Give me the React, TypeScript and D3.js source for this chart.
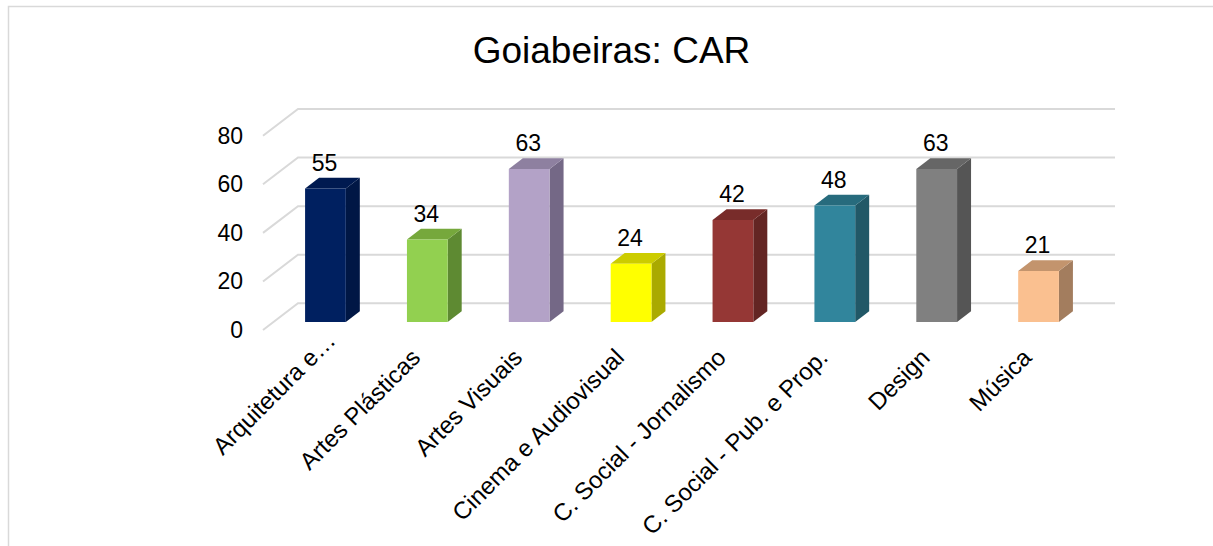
import React from "react";
import * as d3 from "d3";

const title = "Goiabeiras: CAR";
const categories = [
  "Arquitetura e…",
  "Artes Plásticas",
  "Artes Visuais",
  "Cinema e Audiovisual",
  "C. Social - Jornalismo",
  "C. Social - Pub. e Prop.",
  "Design",
  "Música",
];
const values = [55, 34, 63, 24, 42, 48, 63, 21];
const yTicks = [0, 20, 40, 60, 80];
const frontColors = ["#002060", "#92D050", "#B3A2C7", "#FFFF00", "#953735", "#31859C", "#808080", "#FAC090"];
const topColors = ["#001A50", "#76A83C", "#8E80A0", "#CCCC00", "#782C2A", "#276B7D", "#666666", "#C3946D"];
const sideColors = ["#001745", "#5E8A32", "#746886", "#AAAA00", "#632523", "#215867", "#555555", "#A37D5E"];

const W = 1213;
const H = 546;
const FONT = "'Liberation Sans', Arial, Helvetica, sans-serif";

// 3D projection: depth vector for the floor
const DX = 35;
const DY = -26.7;
const d1 = 0.3;
const d2 = 0.7;

export default function App() {
  const x = d3
    .scaleBand<string>()
    .domain(categories)
    .range([263, 1080])
    .paddingInner(0.6)
    .paddingOuter(0.31);
  const y = d3.scaleLinear().domain([0, 80]).range([330, 135.7]);
  const bw = x.bandwidth();
  const proj = (px: number, py: number, d: number): [number, number] => [px + DX * d, py + DY * d];
  const pts = (arr: [number, number][]) => arr.map((p) => p.join(",")).join(" ");

  return (
    <svg
      width={W}
      height={H}
      style={{ position: "absolute", left: 0, top: 0, background: "#fff" }}
      fontFamily={FONT}
    >
      <rect x={0} y={0} width={W} height={H} fill="#fff" />
      <rect x={8.5} y={6.5} width={W + 20} height={H + 20} fill="none" stroke="#D9D9D9" strokeWidth={1.5} />
      <text x={611.5} y={62.5} fontSize={37} textAnchor="middle" fill="#000">
        {title}
      </text>
      {/* gridlines */}
      {yTicks.map((t) => {
        const [fx, fy] = proj(263, y(t), 0);
        const [bx, by] = proj(263, y(t), 1);
        const [ex, ey] = proj(1080, y(t), 1);
        return (
          <g key={t}>
            <polyline
              points={pts([[fx, fy], [bx, by], [ex, ey]])}
              fill="none"
              stroke="#D9D9D9"
              strokeWidth={2}
            />
            <text x={243} y={y(t) + 8} fontSize={23} textAnchor="end" fill="#000">
              {t}
            </text>
          </g>
        );
      })}
      {/* bars */}
      {categories.map((c, i) => {
        const x0 = x(c) as number;
        const x1 = x0 + bw;
        const yb = y(0);
        const yt = y(values[i]);
        const front = [proj(x0, yb, d1), proj(x1, yb, d1), proj(x1, yt, d1), proj(x0, yt, d1)];
        const side = [proj(x1, yb, d1), proj(x1, yb, d2), proj(x1, yt, d2), proj(x1, yt, d1)];
        const top = [proj(x0, yt, d1), proj(x1, yt, d1), proj(x1, yt, d2), proj(x0, yt, d2)];
        const [lx, ly] = proj(x0 + bw / 2, yt, d1);
        return (
          <g key={c}>
            <polygon points={pts(side)} fill={sideColors[i]} />
            <polygon points={pts(top)} fill={topColors[i]} />
            <polygon points={pts(front)} fill={frontColors[i]} />
            <text x={lx - 1} y={ly - 17.5} fontSize={23} textAnchor="middle" fill="#000">
              {values[i]}
            </text>
          </g>
        );
      })}
      {/* category labels */}
      {categories.map((c) => {
        const px = (x(c) as number) + bw / 2 + 5;
        const py = y(0) + 29;
        const ell = c.endsWith("…");
        const main = ell ? c.slice(0, -1) : c;
        return (
          <g key={"l" + c} transform={`translate(${px},${py}) rotate(-45)`}>
            <text x={0} y={0} fontSize={24} textAnchor="end" fill="#000">
              {main}
            </text>
            {ell && (
              <text x={0} y={0} fontSize={24} textAnchor="start" fill="#000">
                …
              </text>
            )}
          </g>
        );
      })}
    </svg>
  );
}
